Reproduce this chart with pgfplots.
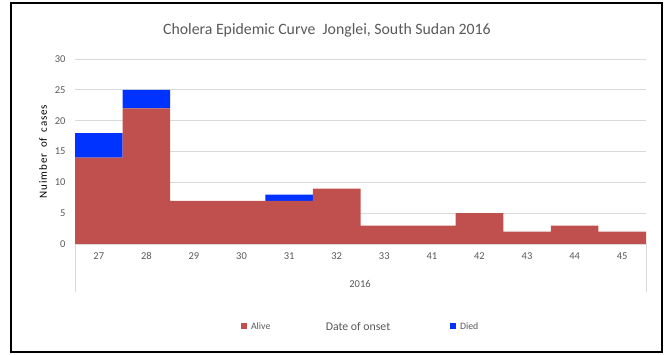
\documentclass[border=0pt]{standalone}
\usepackage{pgfplots}
\pgfplotsset{compat=1.18}
\usepackage{fontspec}
\setmainfont{Carlito}
\newfontfamily\widefont[LetterSpace=8,WordSpace=1.7]{Carlito}
\definecolor{alive}{HTML}{C0504D}
\definecolor{died}{HTML}{0033FF}
\definecolor{txt}{HTML}{595959}
\definecolor{grd}{HTML}{D9D9D9}
\begin{document}
\begin{tikzpicture}[x=1pt,y=1pt]
\useasboundingbox (0,0) rectangle (665,354);
\draw[line width=1.6pt,black] (11,2) rectangle (662,351);
\node[font=\fontsize{15.8}{18}\selectfont,text=txt] at (327,324) {Cholera Epidemic Curve\ \ Jonglei, South Sudan 2016};
\begin{axis}[
  at={(75pt,110pt)}, anchor=south west,
  scale only axis, width=571pt, height=185pt,
  xmin=-0.5, xmax=11.5, ymin=0, ymax=30,
  ybar stacked, bar width=1,
  axis line style={draw=none},
  major tick length=0pt,
  ytick={0,5,...,30},
  ymajorgrids, grid style={grd, line width=0.8pt},
  xtick=data,
  xticklabels={27,28,29,30,31,32,33,41,42,43,44,45},
  /pgf/number format/assume math mode=true,
  tick label style={font=\fontsize{10.5}{12}\selectfont, text=txt},
  yticklabel style={xshift=-6pt},
  xticklabel style={yshift=-5pt},
  ylabel={\widefont\fontsize{11}{13}\selectfont Nuimber of cases},
  ylabel style={text=txt},
  every axis y label/.style={at={(-32pt,0.5)}, rotate=90, anchor=center},
  clip=false,
]
\addplot[fill=alive, draw=none] coordinates {(0,14) (1,22) (2,7) (3,7) (4,7) (5,9) (6,3) (7,3) (8,5) (9,2) (10,3) (11,2)};
\addplot[fill=died, draw=none] coordinates {(0,4) (1,3) (2,0) (3,0) (4,1) (5,0) (6,0) (7,0) (8,0) (9,0) (10,0) (11,0)};
\end{axis}
\draw[grd, line width=0.8pt] (75,110) -- (646,110);
\draw[grd, line width=0.8pt] (75,110) -- (75,62);
\draw[grd, line width=0.8pt] (646,110) -- (646,62);
\node[font=\fontsize{10.5}{12}\selectfont,text=txt] at (360,70) {2016};
\fill[alive] (241,25) rectangle (247,31);
\node[font=\fontsize{9.8}{11}\selectfont,text=txt,anchor=west] at (247.5,27.5) {Alive};
\node[font=\fontsize{11.8}{13}\selectfont,text=txt] at (358,28) {Date of onset};
\fill[died] (450,25) rectangle (456,31);
\node[font=\fontsize{9.8}{11}\selectfont,text=txt,anchor=west] at (456.5,27.5) {Died};
\end{tikzpicture}
\end{document}
